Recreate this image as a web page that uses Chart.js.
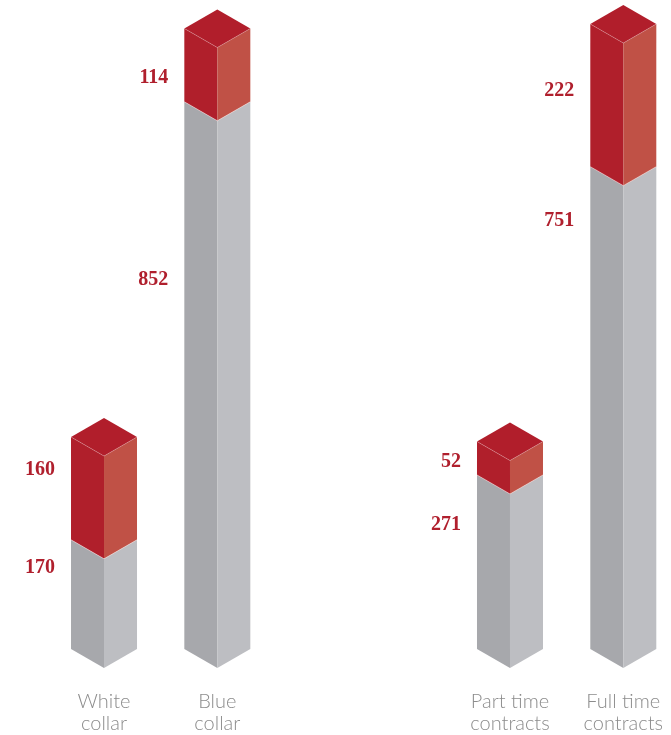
<!DOCTYPE html>
<html>
<head>
<meta charset="utf-8">
<script src="https://cdn.jsdelivr.net/npm/chart.js@4"></script>
<style>
  html, body { margin: 0; padding: 0; background: #ffffff; }
  #wrap { width: 671px; height: 735px; position: relative; }
</style>
</head>
<body>
<div id="wrap"><canvas id="c" width="671" height="735"></canvas></div>
<script>
// ---- data ----
const categories = ['White collar', 'Blue collar', 'Part time contracts', 'Full time contracts'];
const categoryLines = [['White', 'collar'], ['Blue', 'collar'], ['Part time', 'contracts'], ['Full time', 'contracts']];
const grayValues = [170, 852, 271, 751];
const redValues = [160, 114, 52, 222];

// ---- layout / style ----
const groupGap = 1.583;               // extra slot space between the two groups
const slotX = categories.map((c, i) => i + (i >= 2 ? groupGap : 0));
const FACE_W = 33, FACE_D = 19;
const colors = {
  grayL: '#a7a8ac', grayR: '#bdbec2',
  redL: '#b01f2b', redR: '#c05146', redTop: '#b11e2b',
  value: '#b01f2d', cat: '#8c8c8c'
};
// where each value label sits inside its segment (fraction from segment top)
const grayLabelFrac = [0.066, 0.289, 0.167, 0.071];
const redLabelFrac = [0.126, 0.40, 0.01, 0.325];

function poly(ctx, pts, fill) {
  ctx.beginPath();
  ctx.moveTo(pts[0][0], pts[0][1]);
  for (let k = 1; k < pts.length; k++) ctx.lineTo(pts[k][0], pts[k][1]);
  ctx.closePath();
  ctx.fillStyle = fill;
  ctx.fill();
}

function drawPrism(ctx, cx, yb, yt, cl, cr, ctop) {
  const w = FACE_W, d = FACE_D;
  poly(ctx, [[cx - w, yt - d], [cx, yt], [cx, yb], [cx - w, yb - d]], cl);
  poly(ctx, [[cx, yt], [cx + w, yt - d], [cx + w, yb - d], [cx, yb]], cr);
  if (ctop) {
    poly(ctx, [[cx, yt], [cx - w, yt - d], [cx, yt - 2 * d], [cx + w, yt - d]], ctop);
    ctx.save();
    ctx.strokeStyle = 'rgba(255,255,255,0.28)';
    ctx.lineWidth = 0.8;
    ctx.beginPath();
    ctx.moveTo(cx - w, yt - d); ctx.lineTo(cx, yt); ctx.lineTo(cx + w, yt - d);
    ctx.stroke();
    ctx.restore();
  }
}

const prismPlugin = {
  id: 'prism',
  afterDatasetsDraw(chart) {
    const ctx = chart.ctx;
    const gm = chart.getDatasetMeta(0);
    const rm = chart.getDatasetMeta(1);
    ctx.save();
    gm.data.forEach((g, i) => {
      const r = rm.data[i];
      const cx = g.x;
      drawPrism(ctx, cx, g.base, g.y, colors.grayL, colors.grayR, null);
      drawPrism(ctx, cx, r.base, r.y, colors.redL, colors.redR, colors.redTop);
      // light seam between red and gray
      ctx.strokeStyle = 'rgba(255,255,255,0.55)';
      ctx.lineWidth = 0.8;
      ctx.beginPath();
      ctx.moveTo(cx - FACE_W, r.base - FACE_D); ctx.lineTo(cx, r.base); ctx.lineTo(cx + FACE_W, r.base - FACE_D);
      ctx.stroke();

      // value labels
      ctx.fillStyle = colors.value;
      ctx.font = 'bold 20px "Liberation Serif", "DejaVu Serif", serif';
      ctx.textAlign = 'right';
      ctx.textBaseline = 'alphabetic';
      const lx = cx - FACE_W - 16;
      const gy = g.y + grayLabelFrac[i] * (g.base - g.y);
      const ry = r.y + redLabelFrac[i] * (r.base - r.y);
      ctx.fillText(String(grayValues[i]), lx, gy + 6.5);
      ctx.fillText(String(redValues[i]), lx, ry + 6.5);

      // category labels
      ctx.fillStyle = colors.cat;
      ctx.font = '300 20px Lato, "Open Sans", "Liberation Sans", sans-serif';
      ctx.textAlign = 'center';
      const lines = categoryLines[i];
      ctx.fillText(lines[0], cx, 708);
      ctx.fillText(lines[1], cx, 730);
    });
    ctx.restore();
  }
};

const mk = (vals) => vals.map((v, i) => ({ x: slotX[i], y: v }));

new Chart(document.getElementById('c'), {
  type: 'bar',
  data: {
    datasets: [
      { label: 'Gray', data: mk(grayValues), backgroundColor: 'rgba(0,0,0,0)', borderWidth: 0 },
      { label: 'Red', data: mk(redValues), backgroundColor: 'rgba(0,0,0,0)', borderWidth: 0 }
    ]
  },
  options: {
    responsive: false,
    animation: false,
    layout: { padding: { top: 0, bottom: 67, left: 0, right: 0 } },
    plugins: { legend: { display: false }, tooltip: { enabled: false } },
    scales: {
      x: { type: 'linear', stacked: true, display: false, offset: false, min: -0.918, max: 5.004 },
      y: { stacked: true, display: false, min: 0, max: 1040 }
    }
  },
  plugins: [prismPlugin]
});
</script>
</body>
</html>
